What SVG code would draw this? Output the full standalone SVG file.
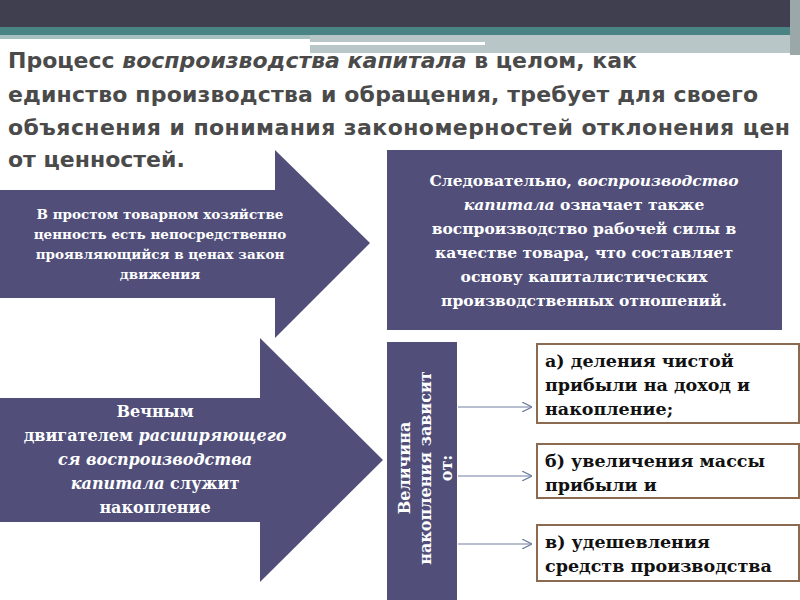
<svg xmlns="http://www.w3.org/2000/svg" width="800" height="600" viewBox="0 0 800 600">
<defs>
<style>
.t{font-family:"DejaVu Sans","Open Sans",sans-serif;font-weight:bold;font-size:22px;fill:#4a4a4a}
.w{font-family:"DejaVu Serif",serif;font-weight:bold;fill:#fff;text-anchor:middle}
.b{font-family:"DejaVu Serif",serif;font-weight:bold;font-size:17.5px;fill:#111}
.n{fill:#514f7a}
.bx{fill:#fff;stroke:#8b6a50;stroke-width:2}
.c{stroke:#6f7f9f;stroke-width:1;fill:none;marker-end:url(#a)}
</style>
<marker id="a" viewBox="0 0 10 10" refX="10" refY="5" markerWidth="10" markerHeight="10" markerUnits="userSpaceOnUse" orient="auto"><path d="M0,0 L10,5 L0,10" fill="none" stroke="#6f7f9f" stroke-width="1.2"/></marker>
</defs>
<rect width="800" height="600" fill="#fff"/>
<rect width="800" height="27" fill="#3f3f50"/>
<rect y="27" width="800" height="8" fill="#4a8383"/>
<rect y="35" width="310" height="4" fill="#a8bfc0"/>
<rect x="310" y="35" width="490" height="18" fill="#b8c6c7"/>
<rect x="310" y="42" width="175" height="3" fill="#fff"/>
<rect x="790" y="0" width="10" height="55" fill="#9aa8aa"/>
<text class="t"><tspan x="8" y="68">Процесс <tspan font-style="italic">воспроизводства капитала</tspan> в целом, как</tspan><tspan x="8" y="102" textLength="750">единство производства и обращения, требует для своего</tspan><tspan x="8" y="135" textLength="782">объяснения и понимания закономерностей отклонения цен</tspan><tspan x="8" y="167">от ценностей.</tspan></text>
<g id="arrow1"><polygon class="n" points="0,190 275,190 275,150 370,243 275,338 275,298 0,298"/>
<text class="w" font-size="13.5"><tspan x="160" y="219">В простом товарном хозяйстве</tspan><tspan x="160" y="239">ценность есть непосредственно</tspan><tspan x="160" y="259">проявляющийся в ценах закон</tspan><tspan x="160" y="279">движения</tspan></text></g>
<g id="box1"><rect class="n" x="387" y="150" width="395" height="180"/>
<text class="w" font-size="15.5"><tspan x="584" y="186">Следовательно, <tspan font-style="italic">воспроизводство</tspan></tspan><tspan x="584" y="210"><tspan font-style="italic">капитала</tspan> означает также</tspan><tspan x="584" y="234">воспроизводство рабочей силы в</tspan><tspan x="584" y="258">качестве товара, что составляет</tspan><tspan x="584" y="282">основу капиталистических</tspan><tspan x="584" y="306">производственных отношений.</tspan></text></g>
<g id="arrow2"><polygon class="n" points="0,398 260,398 260,338 383,460 260,582 260,522 0,522"/>
<text class="w" font-size="16"><tspan x="155" y="417">Вечным</tspan><tspan x="155" y="441">двигателем <tspan font-style="italic">расширяющего</tspan></tspan><tspan x="155" y="465"><tspan font-style="italic">ся воспроизводства</tspan></tspan><tspan x="155" y="489"><tspan font-style="italic">капитала</tspan> служит</tspan><tspan x="155" y="513">накопление</tspan></text></g>
<g id="vbox"><rect class="n" x="387" y="342" width="70" height="258"/>
<text class="w" font-size="16" transform="translate(422,468) rotate(-90)"><tspan x="0" y="-12">Величина</tspan><tspan x="0" y="9">накопления зависит</tspan><tspan x="0" y="30">от:</tspan></text></g>
<g id="ba"><rect class="bx" x="537" y="344" width="262" height="79"/><text class="b"><tspan x="545" y="367">а) деления чистой</tspan><tspan x="545" y="391">прибыли на доход и</tspan><tspan x="545" y="415">накопление;</tspan></text></g>
<g id="bb"><rect class="bx" x="537" y="444" width="262" height="54"/><text class="b"><tspan x="545" y="467">б) увеличения массы</tspan><tspan x="545" y="491">прибыли и</tspan></text></g>
<g id="bc"><rect class="bx" x="537" y="525" width="262" height="56"/><text class="b"><tspan x="545" y="548">в) удешевления</tspan><tspan x="545" y="572">средств производства</tspan></text></g>
<g id="connectors">
<path class="c" d="M458,407 H532"/><path class="c" d="M458,476 H532"/><path class="c" d="M458,544 H532"/>
</g>
</svg>
